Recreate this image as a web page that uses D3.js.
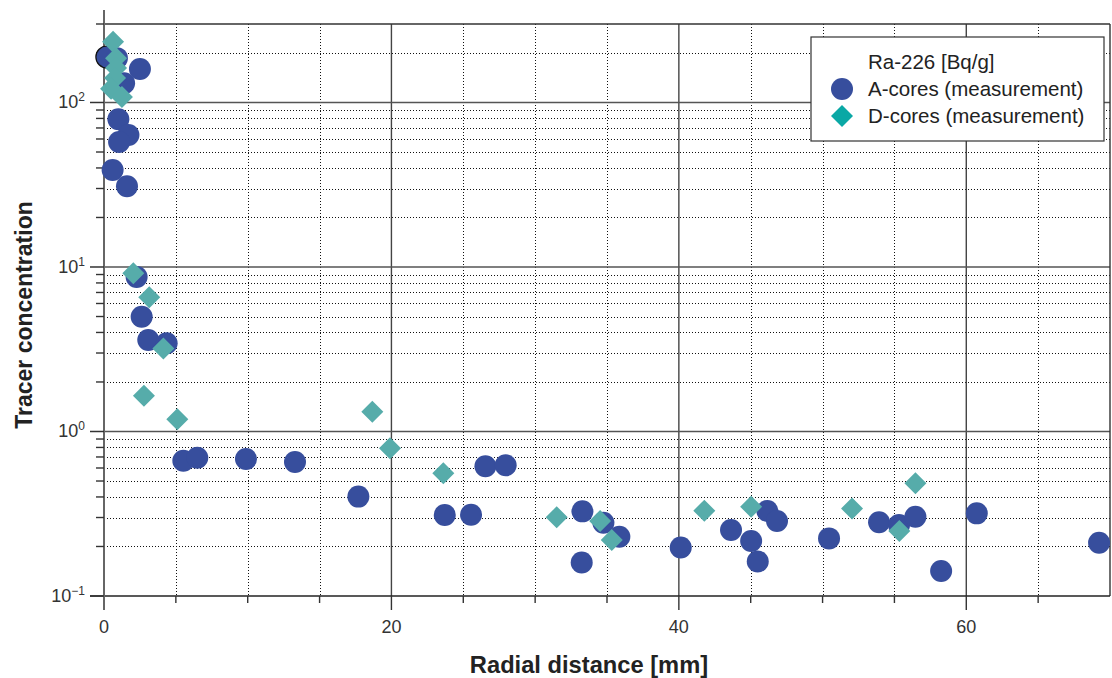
<!DOCTYPE html>
<html>
<head>
<meta charset="utf-8">
<script src="https://cdn.jsdelivr.net/npm/d3@7"></script>
<style>
  html, body { margin: 0; padding: 0; background: #fff; }
  svg { display: block; font-family: "Liberation Sans", Arial, sans-serif; }
</style>
</head>
<body>
<svg id="chart" width="1112" height="678"></svg>
<script>
// ---- data ----
const aX = [0.2, 0.9, 2.5, 1.4, 1.0, 1.7, 1.05, 0.6, 1.6, 2.27, 2.62, 3.08, 4.36, 5.52, 6.49, 9.88, 13.29, 17.7, 23.71, 25.54, 26.54, 27.95, 33.29, 34.75, 35.86, 33.24, 40.13, 43.63, 45.03, 46.16, 46.83, 45.49, 50.45, 53.93, 55.32, 56.46, 58.25, 60.73, 69.24];
const aY = [189, 186, 160, 131, 79, 63.5, 57.5, 38.9, 31, 8.7, 4.99, 3.6, 3.44, 0.664, 0.693, 0.681, 0.653, 0.402, 0.311, 0.312, 0.614, 0.623, 0.327, 0.279, 0.229, 0.160, 0.197, 0.252, 0.216, 0.329, 0.286, 0.162, 0.224, 0.281, 0.270, 0.303, 0.142, 0.318, 0.211];
const dX = [0.63, 0.84, 0.84, 0.77, 0.49, 1.25, 2.04, 3.15, 4.13, 2.78, 5.10, 18.67, 19.9, 23.61, 31.5, 34.52, 35.33, 41.77, 45.03, 52.05, 55.34, 56.46];
const dY = [234, 186, 162, 141, 121, 108, 9.15, 6.54, 3.20, 1.652, 1.187, 1.319, 0.790, 0.557, 0.301, 0.286, 0.219, 0.330, 0.349, 0.340, 0.248, 0.484];
const xTicks = [0, 20, 40, 60];
const yTickExp = [-1, 0, 1, 2];
const legendTitle = "Ra-226 [Bq/g]";
const seriesNames = ["A-cores (measurement)", "D-cores (measurement)"];
const xTitle = "Radial distance [mm]";
const yTitle = "Tracer concentration";

// ---- layout ----
const L = 104, R = 1110, T = 24, B = 596;
const x = d3.scaleLinear().domain([0, 70]).range([L, R]);
const y = d3.scaleLog().domain([0.1, 300]).range([B, T]);
const svg = d3.select("#chart");
const colA = "#374e9d", colD = "#56acaa", colDLeg = "#0aa8a5";
const px = v => Math.round(v) + 0.5;

// minor dotted grids
const vMinor = d3.range(5, 70, 5).filter(v => v % 20 !== 0);
svg.append("g").attr("shape-rendering", "crispEdges").selectAll("line").data(vMinor).join("line")
  .attr("x1", d => px(x(d))).attr("x2", d => px(x(d))).attr("y1", T).attr("y2", B)
  .attr("stroke", "#111").attr("stroke-width", 1).attr("stroke-dasharray", "1,2");
const hMinor = [];
[0.1, 1, 10, 100].forEach(dec => { for (let k = 2; k <= 9; k++) { const v = dec * k; if (v < 300) hMinor.push(v); } });
svg.append("g").attr("shape-rendering", "crispEdges").selectAll("line").data(hMinor).join("line")
  .attr("x1", L).attr("x2", R).attr("y1", d => px(y(d))).attr("y2", d => px(y(d)))
  .attr("stroke", "#111").attr("stroke-width", 1).attr("stroke-dasharray", "1,2");

// major solid grids
svg.append("g").selectAll("line").data([20, 40, 60]).join("line")
  .attr("x1", d => x(d)).attr("x2", d => x(d)).attr("y1", T).attr("y2", B)
  .attr("stroke", "#444").attr("stroke-width", 1.4);
svg.append("g").selectAll("line").data([1, 10, 100]).join("line")
  .attr("x1", L).attr("x2", R).attr("y1", d => y(d)).attr("y2", d => y(d))
  .attr("stroke", "#555").attr("stroke-width", 1.5);

// frame top/right
svg.append("line").attr("x1", L).attr("x2", R).attr("y1", T).attr("y2", T).attr("stroke", "#333").attr("stroke-width", 1.4);
svg.append("line").attr("x1", R).attr("x2", R).attr("y1", T).attr("y2", B).attr("stroke", "#333").attr("stroke-width", 1.4);

// bottom axis line and ticks
svg.append("line").attr("x1", 90).attr("x2", R).attr("y1", B).attr("y2", B).attr("stroke", "#222").attr("stroke-width", 1.5);
svg.append("g").selectAll("line").data(d3.range(5, 70, 5)).join("line")
  .attr("x1", d => x(d)).attr("x2", d => x(d)).attr("y1", B).attr("y2", d => d % 20 === 0 ? B + 14 : B + 7)
  .attr("stroke", "#333").attr("stroke-width", 1.4);
svg.append("g").selectAll("text").data(xTicks).join("text")
  .attr("x", d => x(d)).attr("y", 633).attr("text-anchor", "middle")
  .attr("font-size", 18).attr("fill", "#333").text(d => d);

// left axis line and ticks
svg.append("line").attr("x1", L).attr("x2", L).attr("y1", 10).attr("y2", 610).attr("stroke", "#666").attr("stroke-width", 2);
const yMinorAll = [];
[0.1, 1, 10, 100].forEach(dec => { for (let k = 2; k <= 9; k++) { const v = dec * k; if (v <= 300) yMinorAll.push(v); } });
svg.append("g").selectAll("line").data(yMinorAll).join("line")
  .attr("x1", 96).attr("x2", L).attr("y1", d => y(d)).attr("y2", d => y(d))
  .attr("stroke", "#333").attr("stroke-width", 1.4);
svg.append("g").selectAll("line").data(yTickExp.map(e => Math.pow(10, e))).join("line")
  .attr("x1", 90).attr("x2", L).attr("y1", d => y(d)).attr("y2", d => y(d))
  .attr("stroke", "#333").attr("stroke-width", 1.5);
const yl = svg.append("g").selectAll("text").data(yTickExp).join("text")
  .attr("x", 85).attr("y", d => y(Math.pow(10, d)) + 6).attr("text-anchor", "end")
  .attr("font-size", 18).attr("fill", "#333");
yl.append("tspan").text("10");
yl.append("tspan").attr("font-size", 12).attr("dy", -7).text(d => d < 0 ? "\u2212" + Math.abs(d) : d);

// axis titles
svg.append("text").attr("x", 589).attr("y", 673).attr("text-anchor", "middle")
  .attr("font-size", 23.7).attr("font-weight", "bold").attr("fill", "#222").text(xTitle);
svg.append("text").attr("transform", "translate(32,315) rotate(-90)").attr("text-anchor", "middle")
  .attr("font-size", 23).attr("font-weight", "bold").attr("fill", "#222").text(yTitle);

// points
const rr = 11;
const A = aX.map((v, i) => ({ x: v, y: aY[i] }));
const D = dX.map((v, i) => ({ x: v, y: dY[i] }));
svg.append("g").selectAll("circle").data(A).join("circle")
  .attr("cx", d => x(d.x)).attr("cy", d => y(d.y)).attr("r", rr).attr("fill", colA)
  .attr("stroke", (d, i) => i === 0 ? "#111" : "none").attr("stroke-width", 1.2);
const diamond = `M0,${-rr}L${rr},0L0,${rr}L${-rr},0Z`;
svg.append("g").selectAll("path").data(D).join("path")
  .attr("transform", d => `translate(${x(d.x)},${y(d.y)})`).attr("d", diamond).attr("fill", colD);

// legend
const lg = svg.append("g");
lg.append("rect").attr("x", 811).attr("y", 37).attr("width", 293).attr("height", 104)
  .attr("fill", "#fff").attr("stroke", "#333").attr("stroke-width", 1.2);
lg.append("text").attr("x", 868).attr("y", 69).attr("font-size", 20.5).attr("fill", "#222").text(legendTitle);
lg.append("circle").attr("cx", 842).attr("cy", 89).attr("r", rr).attr("fill", colA);
lg.append("text").attr("x", 868).attr("y", 96).attr("font-size", 20.5).attr("fill", "#222").text(seriesNames[0]);
lg.append("path").attr("transform", "translate(842,116)").attr("d", diamond).attr("fill", colDLeg);
lg.append("text").attr("x", 868).attr("y", 123).attr("font-size", 20.5).attr("fill", "#222").text(seriesNames[1]);
</script>
</body>
</html>
